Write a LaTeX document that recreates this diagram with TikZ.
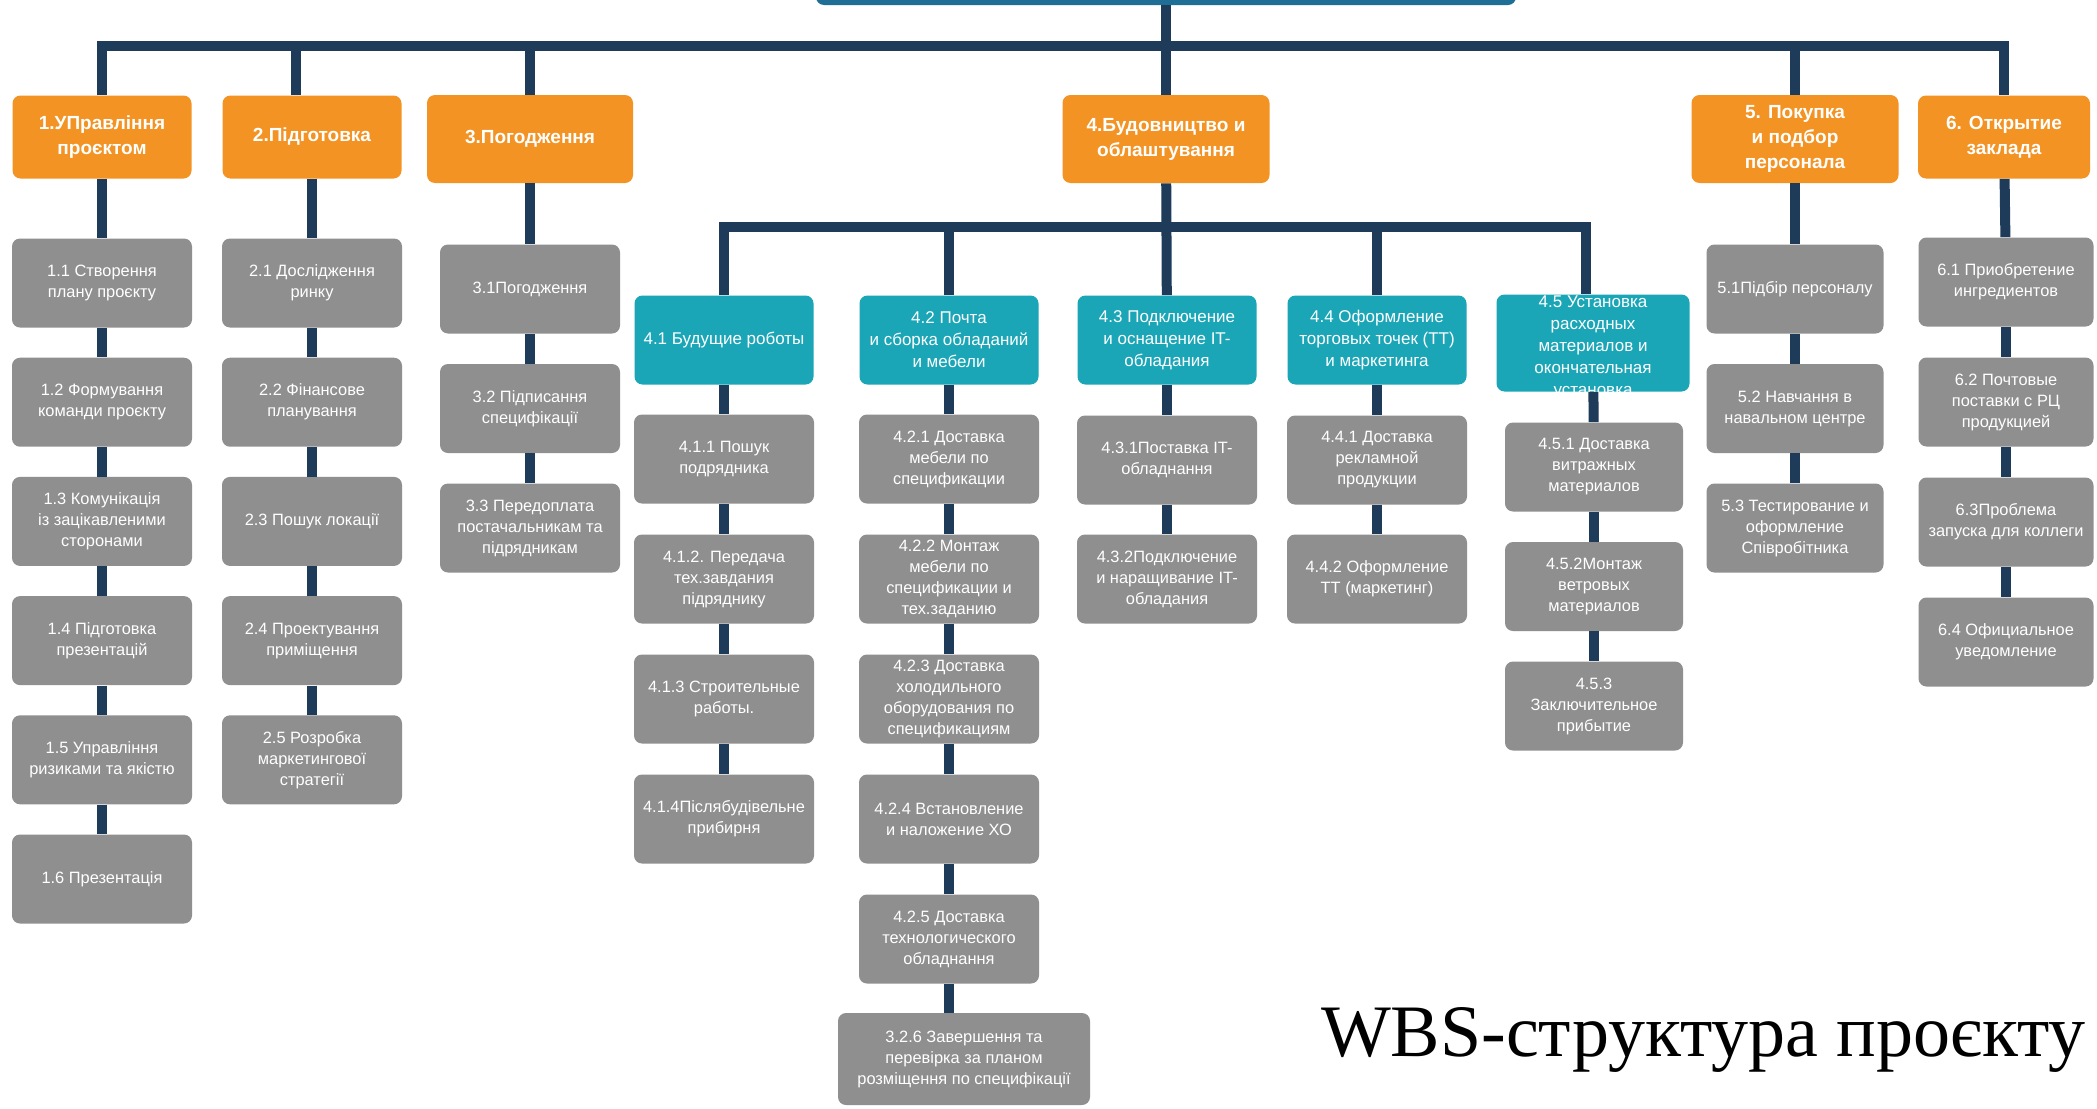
\documentclass[tikz,border=0pt]{standalone}
\usepackage{fontspec}
\setmainfont{Liberation Sans}
\newfontfamily\titlefont{Liberation Serif}
\definecolor{wbsline}{HTML}{1E3B59}
\definecolor{wbsorange}{HTML}{F39323}
\definecolor{wbsteal}{HTML}{1AA6B7}
\definecolor{wbsgrey}{HTML}{8F8F8F}
\definecolor{wbsroot}{HTML}{1F6E95}

\begin{document}
\begin{tikzpicture}[x=0.5pt,y=-0.5pt,
    phase/.style={fill=wbsorange,text=white,rounded corners=4pt,align=center,inner sep=1pt,
      font=\fontsize{9.5}{12.5}\selectfont\bfseries,minimum width=89.5pt,minimum height=41.5pt},
    sub/.style={fill=wbsteal,text=white,rounded corners=4pt,align=center,inner sep=1pt,
      font=\fontsize{8.5}{11}\selectfont,minimum width=89.5pt,minimum height=44.5pt},
    task/.style={fill=wbsgrey,text=white,rounded corners=4pt,align=center,inner sep=1pt,
      font=\fontsize{8.2}{10.5}\selectfont,minimum width=90pt,minimum height=44.5pt},
    wire/.style={draw=wbsline,line width=5pt}]
  \useasboundingbox (0,0) rectangle (2097,1108);
  \clip (0,0) rectangle (2097,1108);
  \fill[white] (0,0) rectangle (2097,1108);

  % root and first level
  \node[fill=wbsroot,rounded corners=4pt,minimum width=350pt,minimum height=45pt] (root) at (1166,-40) {};
  \node[phase,alias=c1-0] (p1) at (102,137) {1.УПравління\\проєктом};
  \node[phase,alias=c2-0] (p2) at (312,137) {2.Підготовка};
  \node[phase,alias=c3-0,minimum width=103pt,minimum height=44pt] (p3) at (530,139) {3.Погодження};
  \node[phase,minimum width=103.5pt,minimum height=44pt] (p4) at (1166,139) {4.Будовництво и\\облаштування};
  \node[phase,alias=c5-0,minimum width=103.5pt,minimum height=44pt] (p5) at (1795,139) {5. Покупка\\и подбор\\персонала};
  \node[phase,alias=c6-0,minimum width=86pt] (p6) at (2004,137) {6. Открытие\\заклада};

  \coordinate (bar) at (0,46);
  \draw[wire] (p1.north) -- (p1.north |- bar) -- (p6.north |- bar) -- (p6.north);
  \draw[wire] ([xshift=-8pt]p2.north) -- ([xshift=-8pt]p2.north |- bar);
  \draw[wire] (p3.north) -- (p3.north |- bar);
  \draw[wire] (p5.north) -- (p5.north |- bar);
  \draw[wire] (root) -- (p4);

  % second level of 4
  \node[sub,alias=c41-0] (s1) at (724,340) {4.1 Будущие роботы};
  \node[sub,alias=c42-0] (s2) at (949,340) {4.2 Почта\\и сборка обладаний\\и мебели};
  \node[sub,alias=c43-0] (s3) at (1167,340) {4.3 Подключение\\и оснащение IT-\\обладания};
  \node[sub,alias=c44-0] (s4) at (1377,340) {4.4 Оформление\\торговых точек (ТТ)\\и маркетинга};
  \node[sub,alias=c45-0,minimum width=96.5pt,minimum height=48.5pt] (s5) at (1593,343)
    {\smash{\raisebox{-4pt}{\parbox[c]{92pt}{\centering 4.5 Установка\\расходных\\материалов и\\окончательная\\установка}}}};

  \coordinate (bar2) at (0,227);
  \draw[wire] (s1.north) -- (s1.north |- bar2) -- ([xshift=-3.5pt]s5.north |- bar2) -- ([xshift=-3.5pt]s5.north);
  \draw[wire] (s2.north) -- (s2.north |- bar2);
  \draw[wire] (s4.north) -- (s4.north |- bar2);
  \draw[wire] (p4) -- (s3);

  % task columns
  \foreach \t [count=\i] in {{1.1 Створення\\плану проєкту},{1.2 Формування\\команди проєкту},
      {1.3 Комунікація\\із зацікавленими\\сторонами},{1.4 Підготовка\\презентацій},
      {1.5 Управління\\ризиками та якістю},{1.6 Презентація}}{
    \pgfmathtruncatemacro\j{\i-1}
    \node[task] (c1-\i) at (102,{283+119.2*(\i-1)}) {\t};
    \draw[wire] (c1-\j) -- (c1-\i);
  }
  \foreach \t [count=\i] in {{2.1 Дослідження\\ринку},{2.2 Фінансове\\планування},{2.3 Пошук локації},
      {2.4 Проектування\\приміщення},{2.5 Розробка\\маркетингової\\стратегії}}{
    \pgfmathtruncatemacro\j{\i-1}
    \node[task] (c2-\i) at (312,{283+119.2*(\i-1)}) {\t};
    \draw[wire] (c2-\j) -- (c2-\i);
  }
  \foreach \t [count=\i] in {{3.1Погодження},{3.2 Підписання\\специфікації},
      {3.3 Передоплата\\постачальникам та\\підрядникам}}{
    \pgfmathtruncatemacro\j{\i-1}
    \node[task] (c3-\i) at (530,{289+119.5*(\i-1)}) {\t};
    \draw[wire] (c3-\j) -- (c3-\i);
  }
  \foreach \t [count=\i] in {{4.1.1 Пошук\\подрядника},{4.1.2. Передача\\тех.завдания\\підряднику},
      {4.1.3 Строительные\\работы.},{4.1.4Післябудівельне\\прибирня}}{
    \pgfmathtruncatemacro\j{\i-1}
    \node[task] (c41-\i) at (724,{459+120*(\i-1)}) {\t};
    \draw[wire] (c41-\j) -- (c41-\i);
  }
  \foreach \t [count=\i] in {{4.2.1 Доставка\\мебели по\\спецификации},
      {4.2.2 Монтаж\\мебели по\\спецификации и\\тех.заданию},
      {4.2.3 Доставка\\холодильного\\оборудования по\\спецификациям},
      {4.2.4 Встановление\\и наложение ХО},{4.2.5 Доставка\\технологического\\обладнання}}{
    \pgfmathtruncatemacro\j{\i-1}
    \node[task] (c42-\i) at (949,{459+120*(\i-1)}) {\t};
    \draw[wire] (c42-\j) -- (c42-\i);
  }
  \node[task,minimum width=126pt,minimum height=46pt] (c42-6) at (964,1059)
    {3.2.6 Завершення та\\перевірка за планом\\розміщення по специфікації};
  \draw[wire] (c42-5.south) -- (c42-5.south |- c42-6.north);
  \foreach \t [count=\i] in {{4.3.1Поставка IT-\\обладнання},{4.3.2Подключение\\и наращивание IT-\\обладания}}{
    \pgfmathtruncatemacro\j{\i-1}
    \node[task] (c43-\i) at (1167,{460+119*(\i-1)}) {\t};
    \draw[wire] (c43-\j) -- (c43-\i);
  }
  \foreach \t [count=\i] in {{4.4.1 Доставка\\рекламной\\продукции},{4.4.2 Оформление\\ТТ (маркетинг)}}{
    \pgfmathtruncatemacro\j{\i-1}
    \node[task] (c44-\i) at (1377,{460+119*(\i-1)}) {\t};
    \draw[wire] (c44-\j) -- (c44-\i);
  }
  \foreach \t [count=\i] in {{4.5.1 Доставка\\витражных\\материалов},{4.5.2Монтаж\\ветровых\\материалов},
      {4.5.3\\Заключительное\\прибытие}}{
    \pgfmathtruncatemacro\j{\i-1}
    \node[task,minimum width=89pt] (c45-\i) at (1594,{467+119.5*(\i-1)}) {\t};
    \draw[wire] (c45-\j) -- (c45-\i);
  }
  \foreach \t [count=\i] in {{5.1Підбір персоналу},{5.2 Навчання в\\навальном центре},
      {5.3 Тестирование и\\оформление\\Співробітника}}{
    \pgfmathtruncatemacro\j{\i-1}
    \node[task,minimum width=88.5pt] (c5-\i) at (1795,{289+119.5*(\i-1)}) {\t};
    \draw[wire] (c5-\j) -- (c5-\i);
  }
  \foreach \t [count=\i] in {{6.1 Приобретение\\ингредиентов},{6.2 Почтовые\\поставки с РЦ\\продукцией},
      {6.3Проблема\\запуска для коллеги},{6.4 Официальное\\уведомление}}{
    \pgfmathtruncatemacro\j{\i-1}
    \node[task,minimum width=87.5pt] (c6-\i) at (2006,{282+120*(\i-1)}) {\t};
    \draw[wire] (c6-\j) -- (c6-\i);
  }

  \node[font=\titlefont\fontsize{37}{40}\selectfont,anchor=base east,inner sep=0pt] (title) at (2086,1056)
    {WBS-структура проєкту};
\end{tikzpicture}
\end{document}
